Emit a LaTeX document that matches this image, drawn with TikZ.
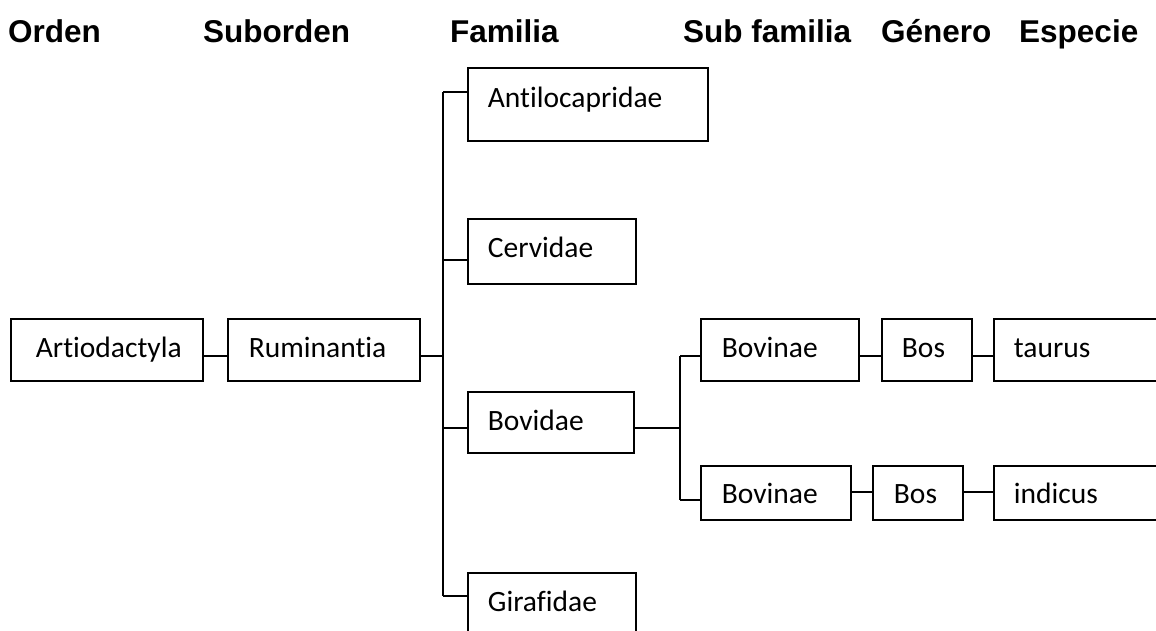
\documentclass[tikz,border=0pt]{standalone}
\usepackage{fontspec}
\newfontfamily\boxfont{Carlito}[Ligatures=NoCommon]
\newfontfamily\headfont{Liberation Sans}
\newcommand*{\BoxLine}{1.8pt}
\newcommand*{\TaxonBoxes}[1]{% #1 = list of name/x/y/width/height/baseline/pad/link/text
  \foreach \nm/\x/\y/\w/\h/\bl/\pd/\lk/\lbl in {#1} {
    \pgfmathsetmacro{\dep}{\h-\bl}
    \node [draw, line width=\BoxLine, anchor=north west, inner sep=0pt,
      text width=\w pt, text height=\bl pt, text depth=\dep pt, align=left,
      font=\boxfont\fontsize{29.5}{34}\selectfont]
      (\nm) at (\x,-\y) {\hspace*{\pd pt}\lbl};
    \coordinate (\nm-in) at ([yshift=-\lk pt]\nm.north west);
    }%
}

\begin{document}
\begin{tikzpicture}[x=1pt,y=1pt,
    head/.style={anchor=base west, inner sep=0pt,
      font=\headfont\bfseries\fontsize{31.5}{36}\selectfont},
    link/.style={line width=\BoxLine}]
    \useasboundingbox (0,0) rectangle (1156,-630);
    \clip (0,0) rectangle (1156,-630);

    \node [head] (orden) at (8,-42) {Orden};
    \node [head] (suborden) at (203,-42) {Suborden};
    \node [head] (familia) at (450,-42) {Familia};
    \node [head] (subfamilia) at (683,-42) {Sub familia};
    \node [head] (genero) at (881,-42) {Género};
    \node [head] (especie) at (1019,-42) {Especie};

    \TaxonBoxes{
        art/10/318/192/62/39/25/38/Artiodactyla,
        rum/227/318/192/62/39/21/38/Ruminantia,
        ant/467/67/240/73/40/20/25/Antilocapridae,
        cer/467/218/168/65/39/20/42/Cervidae,
        bov/467/391/166/61/39/20/37/Bovidae,
        gir/467/572/168/80/39/20/24/Girafidae,
        bovA/700/318/158/62/39/21/38/Bovinae,
        bosA/881/318/90/62/39/20/38/Bos,
        tau/993/318/200/62/39/20/38/taurus,
        bovB/700/465/150/54/38/21/35/Bovinae,
        bosB/872/465/90/54/38/21/27/Bos,
        ind/993/465/200/54/38/20/27/indicus
    }

    \coordinate (famTrunk) at (443,-356);
    \coordinate (subTrunk) at (680,-428);

    \draw [link] (art.east |- rum-in) -- (rum-in);
    \draw [link] (rum.east |- rum-in) -- (famTrunk);
    \draw [link] (ant-in -| famTrunk) -- (gir-in -| famTrunk);
    \foreach \nm in {ant,cer,bov,gir}
        \draw [link] (\nm-in -| famTrunk) -- (\nm-in);

    \draw [link] (bov.east |- bov-in) -- (subTrunk);
    \draw [link] (bovA-in -| subTrunk) -- (bovB-in -| subTrunk);
    \foreach \nm in {bovA,bovB}
        \draw [link] (\nm-in -| subTrunk) -- (\nm-in);

    \draw [link] (bovA.east |- bosA-in) -- (bosA-in);
    \draw [link] (bosA.east |- tau-in) -- (tau-in);
    \draw [link] (bovB.east |- bosB-in) -- (bosB-in);
    \draw [link] (bosB.east |- ind-in) -- (ind-in);
\end{tikzpicture}
\end{document}
